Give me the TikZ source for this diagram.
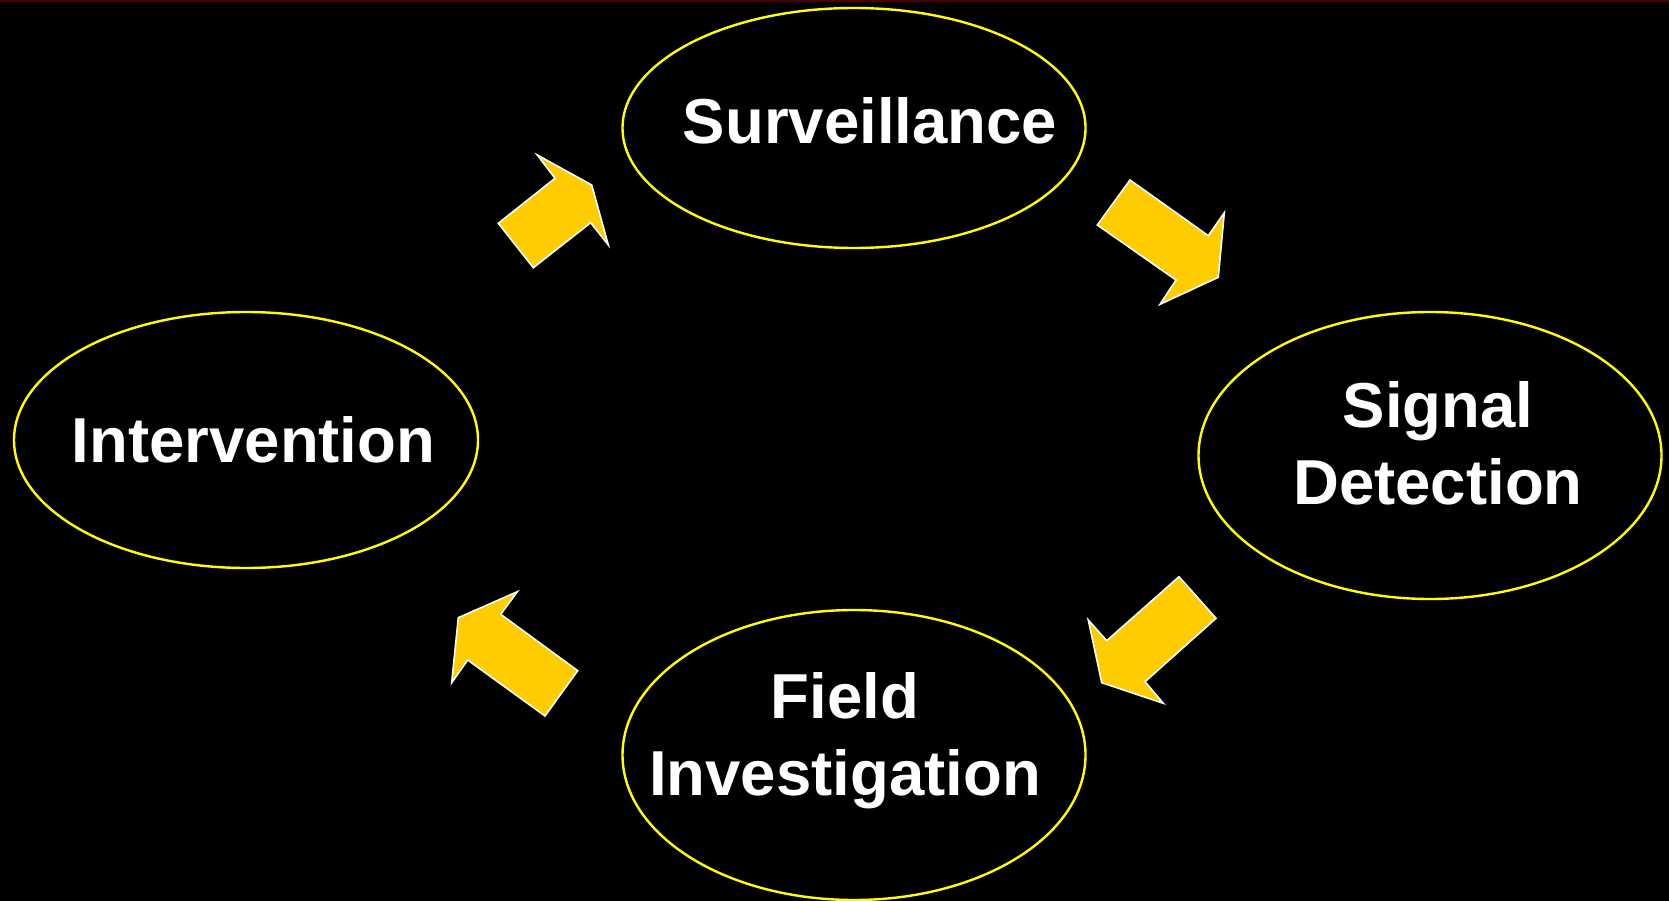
\documentclass[tikz,border=0pt]{standalone}
\usepackage{fontspec}
\setmainfont{Liberation Sans}
\usetikzlibrary{shapes.geometric}
\definecolor{arrowyellow}{HTML}{FFCC00}
\definecolor{ringyellow}{HTML}{FFFF00}
\definecolor{topred}{HTML}{4A0000}
\tikzset{
  ring/.style={draw=ringyellow, line width=2.4pt, ellipse, inner sep=0pt},
  label/.style={text=white, font=\fontsize{63.5}{77}\selectfont\bfseries, align=center, inner sep=0pt},
  blockarrow/.style={fill=arrowyellow, draw=white, line width=1.6pt, line join=miter}
}
\begin{document}
\begin{tikzpicture}[x=1pt,y=-1pt]
\fill[black] (0,0) rectangle (1669,901);
\useasboundingbox (0,0) rectangle (1669,901);
\fill[topred] (0,0) rectangle (1669,2);
% ellipses
\node[ring, minimum width=463pt, minimum height=240pt] (surv) at (854,128) {};
\node[ring, minimum width=464pt, minimum height=256pt] (interv) at (246,440) {};
\node[ring, minimum width=463pt, minimum height=287pt] (signal) at (1430,455.5) {};
\node[ring, minimum width=463pt, minimum height=290pt] (field) at (854,755) {};
% labels
\node[label] (tsurv) at (870,121) {Surveillance};
\node[label] (tinterv) at (253.5,440) {Intervention};
\node[label] (tsignal) at (1438,443) {Signal\\Detection};
\node[label] (tfield) at (845,741) {Field\\Investigation};
% arrows
\draw[blockarrow] (537.3,155) -- (591.7,185) -- (608.3,245) -- (590.7,222.7) -- (533.3,267.7) -- (498.3,223.3) -- (555,178.3) -- cycle;
\draw[blockarrow] (1130,180) -- (1208.3,235.7) -- (1224.3,212.7) -- (1218.3,277.3) -- (1160,304.3) -- (1176,280) -- (1097.3,225) -- cycle;
\draw[blockarrow] (1179,576.7) -- (1216,618.3) -- (1145,681.7) -- (1163.3,703.3) -- (1101.7,682.7) -- (1088.3,620) -- (1106.7,640.7) -- cycle;
\draw[blockarrow] (517.3,591.7) -- (500.7,614.3) -- (577.7,670.7) -- (545,716) -- (467.7,660) -- (451.7,682.7) -- (458.3,617.7) -- cycle;
\end{tikzpicture}
\end{document}
